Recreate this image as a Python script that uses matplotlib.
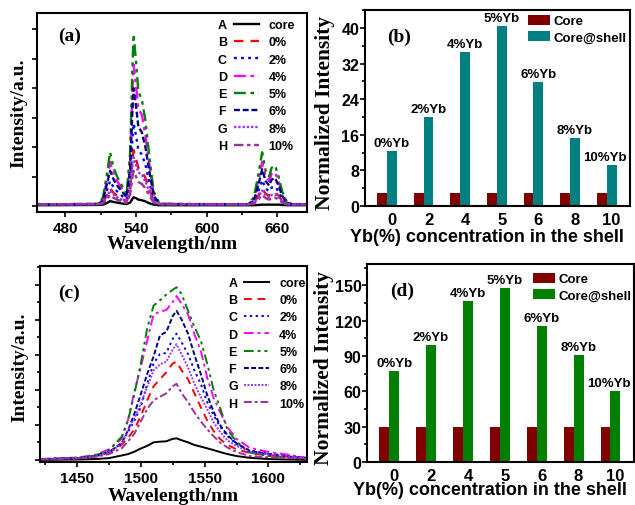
import numpy as np
import matplotlib
matplotlib.use('Agg')
import matplotlib.pyplot as plt
from matplotlib.lines import Line2D
from matplotlib.ticker import MultipleLocator

plt.rcParams['font.family'] = 'Liberation Sans'
plt.rcParams['font.weight'] = 'bold'
plt.rcParams['axes.linewidth'] = 1.5

# ---- data ----
letters = ['A', 'B', 'C', 'D', 'E', 'F', 'G', 'H']
names = ['core', '0%', '2%', '4%', '5%', '6%', '8%', '10%']

# (a) visible/red upconversion spectra
wl_a = [456, 508, 512, 515, 518, 521, 524, 528, 532, 535, 537, 538, 540, 542, 545, 548,
        551, 555, 560, 635, 640, 644, 647, 650, 653, 655, 658, 661, 664, 668, 673, 685]
a_core = [.03, .04, .05, .1, .17, .14, .12, .09, .07, .12, .25, .3, .27, .22, .2, .16,
          .1, .05, .03, .03, .03, .04, .05, .05, .05, .05, .05, .05, .04, .03, .03, .03]
a_0 = [.06, .07, .12, .35, .6, .45, .35, .25, .16, .6, 1.6, 1.9, 1.6, 1.3, 1.2, .95,
       .6, .18, .07, .06, .11, .37, .6, .42, .35, .44, .46, .35, .18, .07, .06, .05]
a_2 = [.06, .07, .15, .5, .85, .63, .5, .35, .22, .9, 2.3, 2.8, 2.4, 1.9, 1.75, 1.4,
       .85, .25, .07, .06, .15, .53, .88, .6, .5, .63, .66, .5, .25, .08, .06, .05]
a_4 = [.06, .07, .25, .8, 1.5, 1.1, .85, .6, .35, 1.5, 4.0, 4.8, 4.1, 3.3, 3.1, 2.4,
       1.5, .4, .07, .06, .25, .9, 1.5, 1.0, .85, 1.1, 1.15, .85, .42, .13, .06, .05]
a_5 = [.06, .08, .3, 1.0, 1.83, 1.3, 1.0, .7, .4, 1.8, 4.8, 5.83, 4.9, 3.9, 3.6, 2.9,
       1.8, .5, .08, .06, .3, 1.1, 1.83, 1.2, 1.0, 1.3, 1.38, 1.0, .5, .15, .06, .05]
a_6 = [.06, .07, .2, .7, 1.2, .9, .7, .5, .3, 1.25, 3.3, 4.0, 3.4, 2.7, 2.5, 2.0,
       1.25, .35, .07, .06, .2, .75, 1.25, .85, .7, .9, .95, .7, .35, .11, .06, .05]
a_8 = [.06, .07, .11, .3, .53, .4, .3, .22, .14, .55, 1.4, 1.65, 1.4, 1.15, 1.05, .85,
       .52, .16, .07, .06, .1, .32, .53, .37, .3, .38, .4, .3, .16, .07, .06, .05]
a_10 = [.06, .07, .09, .22, .38, .28, .22, .16, .11, .4, 1.0, 1.2, 1.0, .82, .75, .6,
        .38, .12, .06, .06, .08, .24, .38, .27, .22, .28, .29, .22, .12, .06, .06, .05]

# (c) NIR emission spectra
wl_c = [1421, 1450, 1465, 1475, 1485, 1490, 1495, 1500, 1505, 1510, 1515, 1520, 1525, 1528,
        1532, 1537, 1542, 1547, 1552, 1557, 1562, 1568, 1575, 1585, 1600, 1615, 1630]
c_core = [0.0, .02, .05, .1, .25, .33, .47, .65, .8, 1.0, 1.04, 1.06, 1.2, 1.23,
          1.12, 1.0, .85, .76, .66, .56, .45, .33, .22, .12, .05, .02, 0.0]
c_0 = [.04, .1, .22, .4, .85, 1.25, 1.75, 2.5, 3.4, 4.2, 4.6, 5.0, 5.5, 5.6,
       5.1, 4.6, 3.8, 3.0, 2.25, 1.65, 1.2, .85, .6, .4, .25, .18, .08]
c_2 = [.04, .1, .22, .42, .95, 1.6, 2.25, 3.0, 4.34, 5.5, 6.04, 6.1, 6.9, 7.2,
       6.7, 6.04, 5.1, 4.34, 3.3, 2.55, 1.9, 1.35, .9, .55, .35, .25, .1]
c_4 = [.04, .12, .3, .6, 1.2, 2.3, 3.9, 5.3, 6.8, 8.3, 8.45, 8.55, 9.0, 9.35,
       8.9, 8.3, 7.17, 6.23, 4.7, 3.55, 2.75, 1.85, 1.2, .7, .45, .3, .12]
c_5 = [.05, .13, .27, .55, 1.32, 2.26, 3.77, 5.5, 7.5, 8.8, 9.1, 9.43, 9.7, 9.85,
       9.45, 8.5, 7.6, 6.8, 5.5, 4.0, 3.0, 1.7, 1.05, .42, .23, .14, .1]
c_6 = [.04, .1, .24, .45, .95, 1.7, 2.64, 3.75, 4.9, 5.9, 7.1, 7.3, 8.2, 8.5,
       8.0, 7.2, 6.0, 4.9, 3.7, 2.75, 2.0, 1.4, .95, .52, .32, .2, .1]
c_8 = [.04, .1, .22, .42, .9, 1.7, 2.4, 3.2, 4.17, 5.1, 5.45, 5.6, 6.3, 6.6,
       6.0, 5.28, 4.34, 3.59, 2.9, 2.15, 1.6, 1.1, .8, .45, .3, .2, .09]
c_10 = [.03, .08, .18, .33, .66, 1.05, 1.5, 2.2, 2.9, 3.4, 3.6, 3.8, 4.2, 4.34,
        3.8, 3.3, 2.7, 2.2, 1.75, 1.35, 1.0, .7, .45, .22, .15, .1, .06]

# (b), (d) normalized intensities
yb = ['0', '2', '4', '5', '6', '8', '10']
b_core = [2.8, 2.8, 2.8, 2.8, 2.8, 2.8, 2.8]
b_shell = [12.3, 19.9, 34.5, 40.5, 27.8, 15.3, 9.1]
d_core = [30, 30, 30, 30, 30, 30, 30]
d_shell = [77.5, 99.5, 136.5, 148, 115.5, 91, 60]

# ---- styles ----
colors = ['black', '#ff0000', '#0000ff', '#ff00ff', '#008000', '#000080', '#9933ff', '#993399']
styles = ['-', (0, (4, 3)), (0, (1.2, 1.8)), (0, (5, 2, 1.5, 2)), (0, (5, 2, 1.5, 2, 1.5, 2)),
          (0, (2.5, 1.2)), (0, (1, 0.8)), (0, (4, 1.5, 1.5, 1.5))]

serif = {'family': 'Liberation Serif', 'weight': 'bold'}

fig = plt.figure(figsize=(6.35, 5.06), dpi=100)
ax_a = fig.add_axes([0.0583, 0.579, 0.425, 0.393])
ax_b = fig.add_axes([0.5748, 0.591, 0.417, 0.387])
ax_c = fig.add_axes([0.063, 0.085, 0.420, 0.387])
ax_d = fig.add_axes([0.578, 0.085, 0.42, 0.391])


def spectra(ax, wl, series, lw, leg_xy):
    lines = []
    for y, c, s in zip(series, colors, styles):
        ln, = ax.plot(wl, y, color=c, ls=s, lw=lw)
        lines.append(ln)
    blanks = [Line2D([], [], color='none') for _ in letters]
    ax.legend(blanks + lines, letters + names, ncol=2, loc='upper left',
              bbox_to_anchor=leg_xy, frameon=False, borderpad=0, borderaxespad=0,
              handlelength=2.0, handletextpad=0.8, columnspacing=0.5,
              labelspacing=0.42, prop={'weight': 'bold', 'size': 9})
    ax.tick_params(direction='out', labelsize=11, width=1.2)
    ax.tick_params(which='major', length=3.5, pad=3)
    ax.tick_params(which='minor', length=2.5, width=1.2)
    ax.set_ylabel('Intensity/a.u.', fontdict=serif, fontsize=14)
    ax.set_xlabel('Wavelength/nm', fontdict=serif, fontsize=14)


spectra(ax_a, wl_a, [a_core, a_0, a_2, a_4, a_5, a_6, a_8, a_10], 1.7, (0.54, 0.97))
ax_a.set_xlim(456, 685)
ax_a.set_ylim(-0.2, 6.55)
ax_a.set_xticks([480, 540, 600, 660])
ax_a.xaxis.set_minor_locator(MultipleLocator(30))
ax_a.set_yticks(range(7))
ax_a.set_yticklabels([])
ax_a.yaxis.set_label_coords(-0.037, 0.5)
ax_a.xaxis.set_label_coords(0.5, -0.116)
ax_a.text(0.078, 0.887, '(a)', transform=ax_a.transAxes, fontdict=serif, fontsize=14, va='center')

spectra(ax_c, wl_c, [c_core, c_0, c_2, c_4, c_5, c_6, c_8, c_10], 1.4, (0.575, 0.945))
ax_c.set_xlim(1421, 1630)
ax_c.set_ylim(-0.12, 11.05)
ax_c.set_xticks([1450, 1500, 1550, 1600])
ax_c.xaxis.set_minor_locator(MultipleLocator(25))
ax_c.set_yticks(range(0, 11, 2))
ax_c.yaxis.set_minor_locator(MultipleLocator(1))
ax_c.set_yticklabels([])
ax_c.yaxis.set_label_coords(-0.045, 0.49)
ax_c.xaxis.set_label_coords(0.5, -0.128)
ax_c.text(0.067, 0.865, '(c)', transform=ax_c.transAxes, fontdict=serif, fontsize=14, va='center')


def bars(ax, core, shell, shell_color, ymax, ystep, leg_xy, tag):
    x = np.arange(len(yb))
    w = 0.27
    ax.bar(x - w / 2, core, w, color='#800000', label='Core')
    ax.bar(x + w / 2, shell, w, color=shell_color, label='Core@shell')
    for i, v in enumerate(shell):
        dx = -5 if i == len(shell) - 1 else 0
        ax.annotate(yb[i] + '%Yb', (x[i] + w / 2, v), xytext=(dx, 1.5),
                    textcoords='offset points', ha='center', va='bottom',
                    fontsize=9.5, fontweight='bold')
    ax.set_xticks(x + w / 2)
    ax.set_xticklabels(yb)
    ax.set_xlim(-0.6, 6.63)
    ax.set_ylim(0, ymax)
    ax.yaxis.set_major_locator(MultipleLocator(ystep))
    ax.yaxis.set_minor_locator(MultipleLocator(ystep / 2))
    ax.tick_params(axis='x', length=0, pad=4, labelsize=12)
    ax.tick_params(axis='y', direction='out', length=3.5, width=1.2, pad=0.5, labelsize=11.5)
    ax.tick_params(axis='y', which='minor', length=2.5, width=1.2)
    ax.set_ylabel('Normalized Intensity', fontdict=serif, fontsize=15.5)
    ax.set_xlabel('Yb(%) concentration in the shell', fontsize=13, fontweight='bold')
    ax.legend(loc='upper left', bbox_to_anchor=leg_xy, frameon=False, borderpad=0,
              borderaxespad=0, handlelength=1.7, handleheight=0.8, handletextpad=0.25,
              labelspacing=0.3, prop={'weight': 'bold', 'size': 9.5})
    ax.text(0.085, 0.868, tag, transform=ax.transAxes, fontdict=serif, fontsize=14, va='center')


bars(ax_b, b_core, b_shell, '#008080', 44, 8, (0.615, 0.977), '(b)')
ax_b.yaxis.set_label_coords(-0.115, 0.48)
ax_b.xaxis.set_label_coords(0.46, -0.112)
bars(ax_d, d_core, d_shell, '#008000', 168, 30, (0.622, 0.957), '(d)')
ax_d.yaxis.set_label_coords(-0.125, 0.48)
ax_d.xaxis.set_label_coords(0.46, -0.096)

fig.savefig('out.png', dpi=100)
